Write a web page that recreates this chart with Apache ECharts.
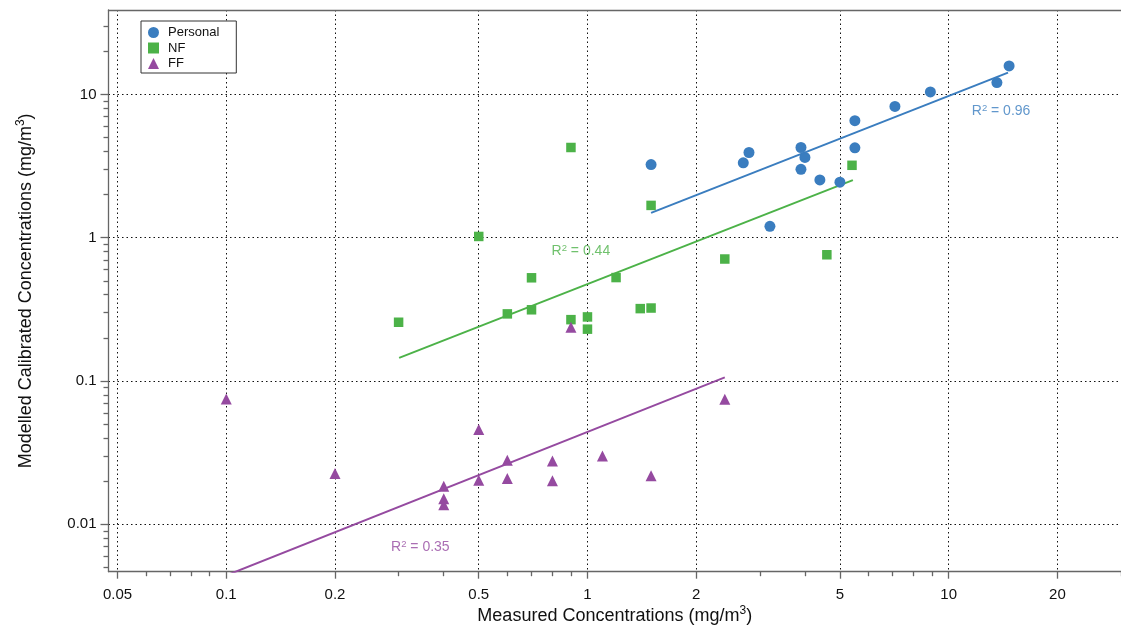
<!DOCTYPE html>
<html><head><meta charset="utf-8">
<script src="https://cdn.jsdelivr.net/npm/echarts@6/dist/echarts.min.js"></script>
<style>html,body{margin:0;padding:0;background:#fff}#c{width:1121px;height:625px}</style>
</head><body><div id="c"></div>
<script>
// ---- tick values ----
const xMajorTicks = [0.05, 0.1, 0.2, 0.5, 1, 2, 5, 10, 20];
const xMinorTicks = [0.06, 0.07, 0.08, 0.09, 0.3, 0.4, 0.6, 0.7, 0.8, 0.9, 3, 4, 6, 7, 8, 9, 30];
const yMajorTicks = [0.01, 0.1, 1, 10];
const yMinorTicks = [0.005, 0.006, 0.007, 0.008, 0.009, 0.02, 0.03, 0.04, 0.05, 0.06, 0.07, 0.08, 0.09,
  0.2, 0.3, 0.4, 0.5, 0.6, 0.7, 0.8, 0.9, 2, 3, 4, 5, 6, 7, 8, 9, 20, 30];

// ---- data ----
const personalX = [1.5, 2.7, 2.8, 3.9, 4.0, 3.9, 4.4, 5.0, 5.5, 5.5, 7.1, 8.9, 13.6, 14.7, 3.2];
const personalY = [3.24, 3.33, 3.93, 4.26, 3.63, 3.0, 2.53, 2.44, 6.55, 4.24, 8.24, 10.4, 12.1, 15.8, 1.2];
const nfX = [0.9, 1.5, 0.5, 2.4, 0.7, 1.2, 0.6, 0.7, 0.3, 0.9, 1.0, 1.0, 1.4, 1.5, 5.4, 4.6];
const nfY = [4.26, 1.68, 1.02, 0.71, 0.525, 0.527, 0.294, 0.314, 0.257, 0.268, 0.28, 0.23, 0.32, 0.323, 3.2, 0.76];
const ffX = [0.1, 0.2, 0.5, 0.4, 0.4, 0.4, 0.5, 0.6, 0.6, 0.8, 0.8, 1.1, 1.5, 2.4, 0.9];
const ffY = [0.075, 0.0226, 0.0459, 0.0184, 0.0151, 0.0137, 0.0203, 0.028, 0.0209, 0.0277, 0.0201, 0.030, 0.0218, 0.0745, 0.237];

// fitted regression lines (endpoints)
const personalFit = [[1.5, 1.49], [14.6, 14.2]];
const nfFit = [[0.301, 0.145], [5.43, 2.52]];
const ffFit = [[0.1, 0.0044], [2.4, 0.106]];

// R^2 annotations: [x, y, text]
const personalR2 = [11.55, 7.6, '0.96'];
const nfR2 = [0.793, 0.8, '0.44'];
const ffR2 = [0.285, 0.0069, '0.35'];

const BLUE = '#3a7dbf', GREEN = '#4cb248', PURPLE = '#954aa0';
const FONT = '"Liberation Sans", Arial, Helvetica, sans-serif';
const X_MIN = 0.0472, X_MAX = 30, Y_MIN = 0.00467, Y_MAX = 38.8;

const zip = (a, b) => a.map((v, i) => [v, b[i]]);
const fmt = v => String(+(+v).toPrecision(6));

function r2Series(r, color) {
  return {
    type: 'scatter', silent: true, symbolSize: 1, z: 5,
    itemStyle: { color: 'rgba(0,0,0,0)' },
    data: [[r[0], r[1]]],
    label: {
      show: true, position: 'right', distance: 0,
      formatter: '{a|R}{s|2}{a| = ' + r[2] + '}',
      rich: {
        a: { fontFamily: FONT, fontSize: 14, color: color, lineHeight: 17 },
        s: { fontFamily: FONT, fontSize: 9.5, color: color, verticalAlign: 'top', lineHeight: 10 }
      }
    }
  };
}

const axisLineStyle = { color: '#666', width: 1.3 };
const nameRich = {
  a: { fontFamily: FONT, fontSize: 18, color: '#111', lineHeight: 22 },
  s: { fontFamily: FONT, fontSize: 12, color: '#111', verticalAlign: 'top', lineHeight: 13 }
};

const chart = echarts.init(document.getElementById('c'), null, { renderer: 'canvas' });
chart.setOption({
  animation: false,
  backgroundColor: '#fff',
  grid: { left: 108.5, right: 0, top: 10, bottom: 53.3, containLabel: false, outerBoundsMode: 'none' },
  legend: {
    orient: 'vertical', left: 141, top: 21,
    padding: [5, 17, 3, 7], itemGap: 2.5, itemWidth: 11, itemHeight: 11,
    borderColor: '#333', borderWidth: 1, backgroundColor: '#fff',
    textStyle: { fontFamily: FONT, fontSize: 13, color: '#111', padding: [0, 0, 0, 4], lineHeight: 13 },
    data: ['Personal', 'NF', 'FF']
  },
  xAxis: [
    {
      type: 'log', min: X_MIN, max: X_MAX, position: 'bottom',
      name: '{a|Measured Concentrations (mg/m}{s|3}{a|)}',
      nameLocation: 'middle', nameGap: 33, nameMoveOverlap: false,
      nameTextStyle: { rich: nameRich },
      axisLine: { show: true, lineStyle: axisLineStyle },
      axisTick: { show: true, length: 7, lineStyle: axisLineStyle, customValues: xMajorTicks },
      axisLabel: { customValues: xMajorTicks, formatter: fmt, margin: 15.5, fontFamily: FONT, fontSize: 15, color: '#111' },
      splitLine: { show: true, lineStyle: { color: '#111', type: [1.5, 3], width: 1 } },
      minorTick: { show: false }
    },
    {
      type: 'log', min: X_MIN, max: X_MAX, position: 'bottom', offset: 0,
      axisLine: { show: false },
      axisTick: { show: true, length: 4.5, lineStyle: axisLineStyle, customValues: xMinorTicks },
      axisLabel: { show: false },
      splitLine: { show: false }
    },
    {
      type: 'value', min: 0, max: 1, position: 'top',
      axisLine: { show: true, lineStyle: axisLineStyle },
      axisTick: { show: false }, axisLabel: { show: false }, splitLine: { show: false }
    }
  ],
  yAxis: [
    {
      type: 'log', min: Y_MIN, max: Y_MAX, position: 'left',
      name: '{a|Modelled Calibrated Concentrations (mg/m}{s|3}{a|)}',
      nameLocation: 'middle', nameGap: 71.5, nameRotate: 90, nameMoveOverlap: false,
      nameTextStyle: { rich: nameRich },
      axisLine: { show: true, lineStyle: axisLineStyle },
      axisTick: { show: true, length: 8, lineStyle: axisLineStyle, customValues: yMajorTicks },
      axisLabel: { customValues: yMajorTicks, formatter: fmt, margin: 12, fontFamily: FONT, fontSize: 15, color: '#111' },
      splitLine: { show: true, lineStyle: { color: '#111', type: [1.5, 3], width: 1 } }
    },
    {
      type: 'log', min: Y_MIN, max: Y_MAX, position: 'left', offset: 0,
      axisLine: { show: false },
      axisTick: { show: true, length: 5, lineStyle: axisLineStyle, customValues: yMinorTicks },
      axisLabel: { show: false },
      splitLine: { show: false }
    }
  ],
  series: [
    { type: 'line', silent: true, symbol: 'none', z: 2, data: personalFit, lineStyle: { color: BLUE, width: 2 }, itemStyle: { color: BLUE } },
    { type: 'line', silent: true, symbol: 'none', z: 2, data: nfFit, lineStyle: { color: GREEN, width: 2 }, itemStyle: { color: GREEN } },
    { type: 'line', silent: true, symbol: 'none', z: 2, data: ffFit, lineStyle: { color: PURPLE, width: 2 }, itemStyle: { color: PURPLE } },
    { name: 'Personal', type: 'scatter', symbol: 'circle', symbolSize: 11, z: 3, itemStyle: { color: BLUE, opacity: 1 }, data: zip(personalX, personalY) },
    { name: 'NF', type: 'scatter', symbol: 'rect', symbolSize: 9.5, z: 3, itemStyle: { color: GREEN, opacity: 1 }, data: zip(nfX, nfY) },
    { name: 'FF', type: 'scatter', symbol: 'triangle', symbolSize: 11, z: 3, itemStyle: { color: PURPLE, opacity: 1 }, data: zip(ffX, ffY) },
    r2Series(personalR2, BLUE),
    r2Series(nfR2, GREEN),
    r2Series(ffR2, PURPLE)
  ]
});
</script>
</body></html>
